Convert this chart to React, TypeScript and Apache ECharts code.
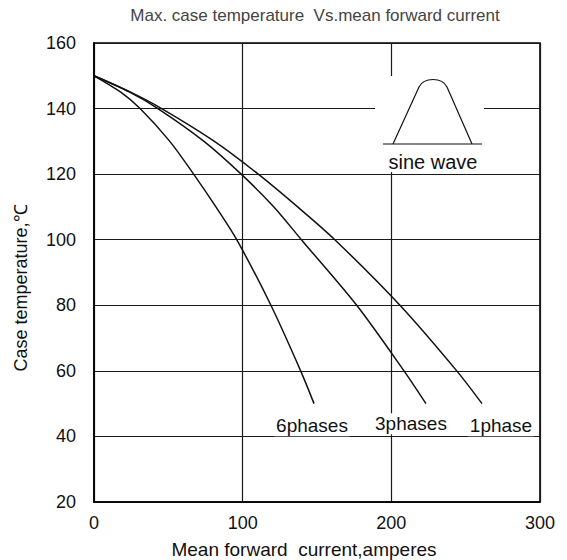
import React, { useEffect, useRef } from "react";
import * as echarts from "echarts";

const titleText = "Max. case temperature  Vs.mean forward current";
const xAxisTitle = "Mean forward  current,amperes";
const yAxisTitle = "Case temperature,℃";
const xMin = 0;
const xMax = 300;
const xStep = 100;
const yMin = 20;
const yMax = 160;
const yStep = 20;

const seriesNames = ["6phases", "3phases", "1phase"];
const sixPhases = [[0, 150], [18, 145], [31, 140], [51, 130], [67, 120], [82, 110], [96, 100], [119, 80], [139, 60], [148, 50]];
const threePhases = [[0, 150], [24, 145], [43, 140], [74, 130], [99, 120], [121, 110], [139.5, 100], [176.7, 80], [208.5, 60], [223.3, 50]];
const onePhase = [[0, 150], [24.6, 145], [45.5, 140], [81, 130], [110.5, 120], [137, 110], [162, 100], [205.8, 80], [244, 60], [261, 50]];
const insetLabel = "sine wave";

const FONT = "'Liberation Sans', Arial, sans-serif";
const INK = "#111";

echarts.graphic.registerShape(
  "sineHump",
  echarts.graphic.extendPath("M0,0 L26,-57 C31,-67 49,-67 54,-57 L79,0", {})
);

export default function App() {
  const ref = useRef<HTMLDivElement>(null);
  useEffect(() => {
    document.body.style.margin = "0";
    if (!ref.current) return;
    const chart = echarts.init(ref.current, undefined, { renderer: "svg" });
    const allSeries = [sixPhases, threePhases, onePhase];
    chart.setOption({
      animation: false,
      backgroundColor: "#fff",
      grid: { left: 94, right: 27, top: 43, bottom: 58, show: true, borderColor: "#000", borderWidth: 1.6, backgroundColor: "transparent" },
      xAxis: {
        type: "value",
        min: xMin,
        max: xMax,
        interval: xStep,
        axisLine: { show: true, lineStyle: { color: "#000", width: 1.6 } },
        axisTick: { show: false },
        axisLabel: { color: INK, fontSize: 18, fontFamily: FONT, margin: 12 },
        splitLine: { show: true, lineStyle: { color: "#1a1a1a", width: 1.2 } },
      },
      yAxis: {
        type: "value",
        min: yMin,
        max: yMax,
        interval: yStep,
        axisLine: { show: true, lineStyle: { color: "#000", width: 1.6 } },
        axisTick: { show: false },
        axisLabel: { color: INK, fontSize: 18, fontFamily: FONT, margin: 18 },
        splitLine: { show: true, lineStyle: { color: "#1a1a1a", width: 1.2 } },
      },
      series: allSeries.map((d, i) => ({
        name: seriesNames[i],
        type: "line",
        data: d,
        smooth: 0.3,
        showSymbol: false,
        lineStyle: { color: INK, width: 1.5 },
        z: 5,
      })),
    });

    const labelOffsets = [[-2, 22], [-15, 20], [19, 22]];
    const endLabels = allSeries.map((d, i) => {
      const last = d[d.length - 1];
      const p = chart.convertToPixel({ gridIndex: 0 }, last) as number[];
      return {
        type: "text",
        x: p[0] + labelOffsets[i][0],
        y: p[1] + labelOffsets[i][1],
        z: 110,
        style: {
          text: seriesNames[i],
          fill: INK,
          font: `19px ${FONT}`,
          align: "center",
          verticalAlign: "middle",
          textAlign: "center",
          textVerticalAlign: "middle",
          backgroundColor: "#fff",
          padding: [1, 2],
        },
      };
    });

    chart.setOption({
      graphic: [
        {
          type: "text",
          x: 315,
          y: 15,
          style: { text: titleText, fill: "#444", font: `17px ${FONT}`, align: "center", verticalAlign: "middle", textAlign: "center", textVerticalAlign: "middle" },
        },
        {
          type: "text",
          x: 304,
          y: 549,
          style: { text: xAxisTitle, fill: INK, font: `19px ${FONT}`, align: "center", verticalAlign: "middle", textAlign: "center", textVerticalAlign: "middle" },
        },
        {
          type: "text",
          x: 21,
          y: 288,
          rotation: Math.PI / 2,
          style: { text: yAxisTitle, fill: INK, font: `18px ${FONT}`, align: "center", verticalAlign: "middle", textAlign: "center", textVerticalAlign: "middle" },
        },
        { type: "rect", z: 100, shape: { x: 375, y: 76, width: 109, height: 96 }, style: { fill: "#fff" } },
        { type: "line", z: 101, shape: { x1: 383, y1: 144, x2: 482, y2: 144 }, style: { stroke: INK, lineWidth: 1.2 } },
        { type: "sineHump", z: 101, x: 393, y: 144, style: { stroke: INK, fill: "none", lineWidth: 1.2 } },
        {
          type: "text",
          z: 101,
          x: 433,
          y: 162,
          style: { text: insetLabel, fill: INK, font: `20px ${FONT}`, align: "center", verticalAlign: "middle", textAlign: "center", textVerticalAlign: "middle" },
        },
        ...endLabels,
      ],
    });
    return () => chart.dispose();
  }, []);
  return <div ref={ref} style={{ position: "absolute", left: 0, top: 0, width: 567, height: 560 }} />;
}
